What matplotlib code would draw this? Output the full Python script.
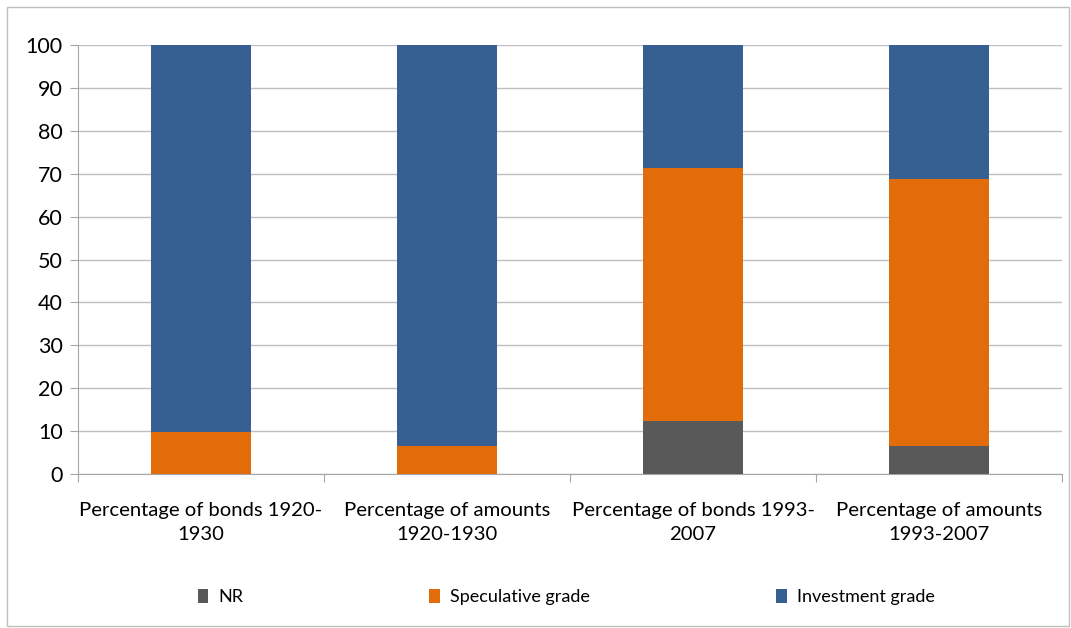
import numpy as np
import matplotlib.pyplot as plt
from matplotlib.patches import Rectangle

plt.rcParams['font.family'] = ['Lato', 'DejaVu Sans']

categories = ['Percentage of bonds 1920-\n1930', 'Percentage of amounts\n1920-1930',
              'Percentage of bonds 1993-\n2007', 'Percentage of amounts\n1993-2007']
nr = [0, 0, 12.4, 6.6]
speculative = [9.8, 6.6, 59.0, 62.2]
investment = [90.2, 93.4, 28.6, 31.2]

c_nr = '#595959'
c_spec = '#E36C0A'
c_inv = '#366092'

fig = plt.figure(figsize=(10.71, 6.28), dpi=100)
fig.patches.append(Rectangle((7 / 1071, 2 / 628), 1 - 9 / 1071, 1 - 9 / 628,
                             transform=fig.transFigure, fill=False,
                             edgecolor='#bfbfbf', linewidth=1))
ax = fig.add_axes([78 / 1071, 154 / 628, 984 / 1071, 429 / 628])

x = np.arange(len(categories))
w = 0.405
nr = np.array(nr)
speculative = np.array(speculative)
investment = np.array(investment)
ax.bar(x, nr, w, color=c_nr, label='NR', zorder=3)
ax.bar(x, speculative, w, bottom=nr, color=c_spec, label='Speculative grade', zorder=3)
ax.bar(x, investment, w, bottom=nr + speculative, color=c_inv, label='Investment grade', zorder=3)

ax.set_xlim(-0.5, len(categories) - 0.5)
ax.set_ylim(0, 100)
ax.set_yticks(np.arange(0, 101, 10))
ax.yaxis.grid(True, color='#bfbfbf', linewidth=1, zorder=0)
ax.set_axisbelow(True)
for s in ['top', 'right']:
    ax.spines[s].set_visible(False)
ax.spines['left'].set_color('#a6a6a6')
ax.spines['bottom'].set_color('#a6a6a6')

ax.set_xticks(np.arange(-0.5, len(categories)), minor=False)
ax.set_xticklabels([])
ax.set_xticks(x, minor=True)
ax.set_xticklabels(categories, minor=True, fontsize=14.6, linespacing=1.5)
ax.tick_params(axis='x', which='major', length=6, color='#a6a6a6')
ax.tick_params(axis='x', which='minor', length=0, pad=20)
ax.tick_params(axis='y', length=6, color='#a6a6a6', labelsize=15.5, pad=5)

handles, labels = ax.get_legend_handles_labels()
fig.legend(handles, labels, loc='center', bbox_to_anchor=(566 / 1071, 1 - 597 / 628),
           ncol=3, frameon=False, fontsize=13, handlelength=0.6, handleheight=0.8,
           handletextpad=0.55, columnspacing=10.3)

fig.savefig('out.png', dpi=100)
